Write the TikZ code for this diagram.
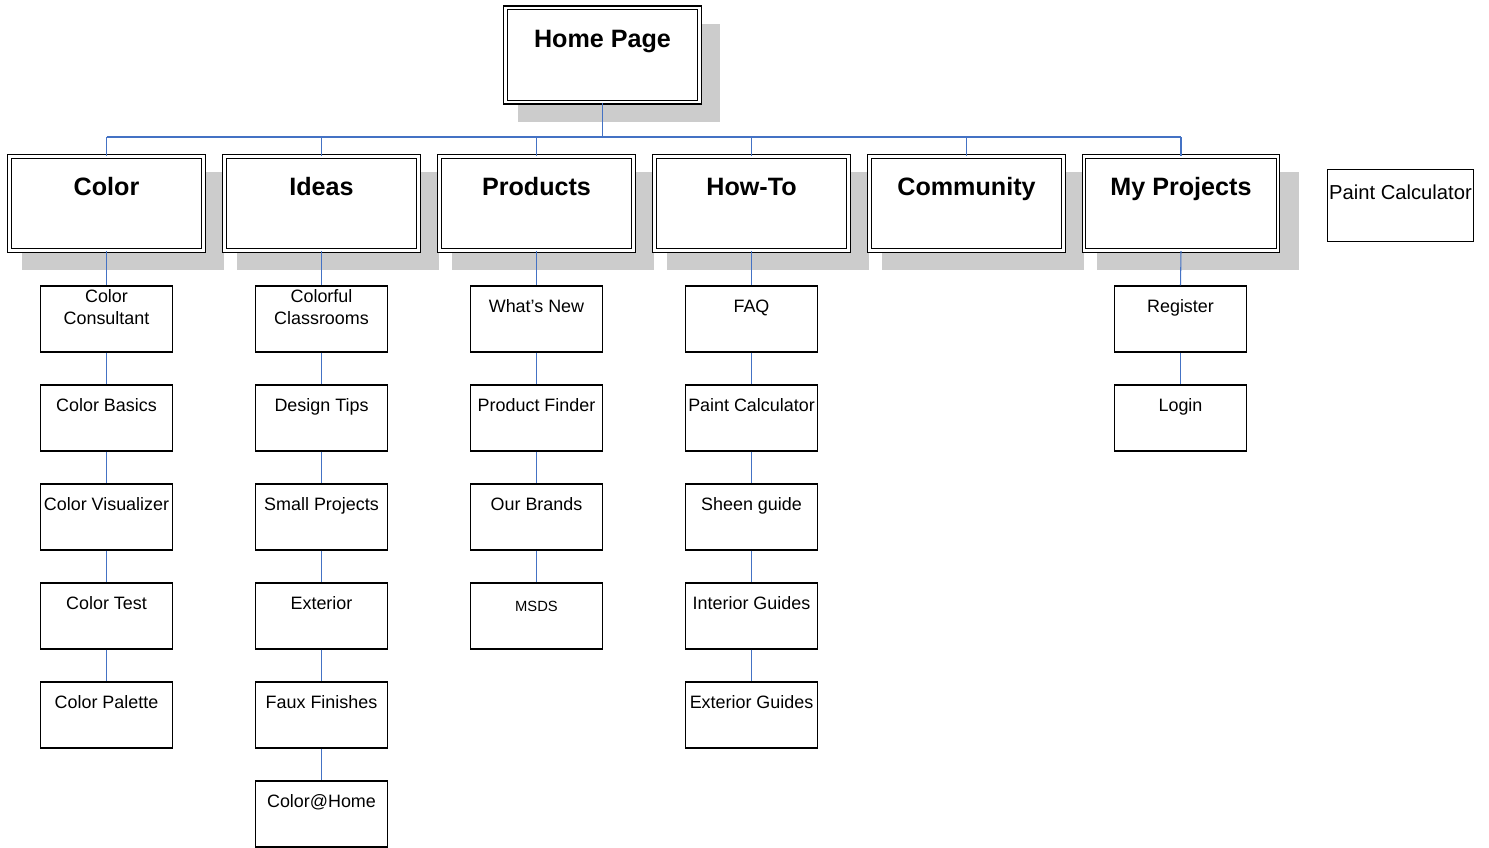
\documentclass[tikz,border=0pt]{standalone}
\usepackage{fontspec}
\setmainfont{Liberation Sans}
\usetikzlibrary{shadows}
\definecolor{linkblue}{RGB}{68,114,196}
\newcommand\topicfont{\fontsize{14.3}{17}\selectfont\bfseries}
\newcommand\pagefont{\fontsize{10.2}{12.5}\selectfont}
\tikzset{
	topic/.style={draw, line width=0.6pt, double, double distance=1.5pt, fill=white,
		minimum width=3.885cm, inner sep=0pt, text height=0.79cm, text depth=1.096cm,
		font=\topicfont,
		drop shadow={shadow xshift=0.32cm, shadow yshift=-0.34cm, shadow scale=1.04, fill=gray!40, opacity=1}},
	page/.style={draw, line width=0.6pt, fill=white, minimum width=2.64cm, inner sep=0pt,
		text height=0.53cm, text depth=0.79cm, align=center, font=\pagefont},
	twoline/.style={page, text height=0.77cm, text depth=0.55cm},
	link/.style={draw=linkblue, line width=0.6pt}
}
\begin{document}
\begin{tikzpicture}[x=0.02cm, y=-0.02cm]
	\useasboundingbox (0,0) rectangle (1489,848);
	% top level
	\node[topic] (home) at (602.5,55) {Home Page};
	\foreach \n/\t/\x in {color/Color/106.5, ideas/Ideas/321.5, products/Products/536.5,
		howto/How-To/751.5, community/Community/966.5, projects/My Projects/1181}{
		\node[topic] (\n) at (\x,203.5) {\t};
	}
	\node[draw, line width=0.6pt, minimum width=2.92cm, inner sep=0pt, text height=0.59cm,
		text depth=0.85cm, font=\fontsize{11.5}{14}\selectfont] (calc) at (1400.5,205.5) {Paint Calculator};
	% second level
	\node[twoline] (color0) at (106.5,319) {Color\\Consultant};
	\foreach \t [count=\k] in {Color Basics, Color Visualizer, Color Test, Color Palette}{
		\node[page] (color\k) at (106.5,319+99*\k) {\t};
	}
	\node[twoline] (ideas0) at (321.5,319) {Colorful\\Classrooms};
	\foreach \t [count=\k] in {Design Tips, Small Projects, Exterior, Faux Finishes, Color@Home}{
		\node[page] (ideas\k) at (321.5,319+99*\k) {\t};
	}
	\foreach \t [count=\k from 0] in {What’s New, Product Finder, Our Brands}{
		\node[page] (products\k) at (536.5,319+99*\k) {\t};
	}
	\node[page, text height=0.56cm, text depth=0.76cm, font=\fontsize{8.4}{10}\selectfont] (products3) at (536.5,616) {MSDS};
	\foreach \t [count=\k from 0] in {FAQ, Paint Calculator, Sheen guide, Interior Guides, Exterior Guides}{
		\node[page] (howto\k) at (751.5,319+99*\k) {\t};
	}
	\foreach \t [count=\k from 0] in {Register, Login}{
		\node[page] (projects\k) at (1180.5,319+99*\k) {\t};
	}
	% connectors
	\coordinate (bus) at (0,137);
	\draw[link] (home.south) -- (home.south |- bus);
	\draw[link] (color.north |- bus) -- (projects.north |- bus);
	\foreach \n in {color, ideas, products, howto, community, projects}{
		\draw[link] (\n.north) -- (\n.north |- bus);
	}
	\foreach \n/\m in {color/4, ideas/5, products/3, howto/4, projects/1}{
		\draw[link] (\n.south) -- (\n0.north);
		\foreach \k [evaluate=\k as \p using int(\k-1)] in {1,...,\m}{
			\draw[link] (\n\p.south) -- (\n\k.north);
		}
	}
\end{tikzpicture}
\end{document}
